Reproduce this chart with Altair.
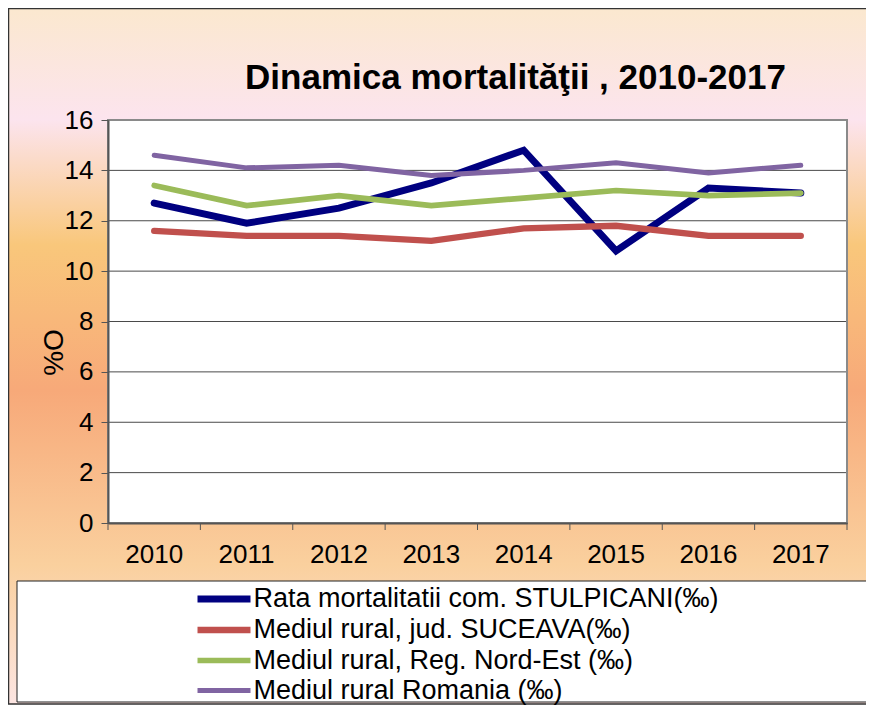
import altair as alt
import pandas as pd

years = ["2010", "2011", "2012", "2013", "2014", "2015", "2016", "2017"]
series = [
    "Rata mortalitatii com. STULPICANI(‰)",
    "Mediul rural, jud. SUCEAVA(‰)",
    "Mediul rural, Reg. Nord-Est (‰)",
    "Mediul rural Romania (‰)",
]
stulpicani = [12.7, 11.9, 12.5, 13.5, 14.8, 10.8, 13.3, 13.1]
suceava = [11.6, 11.4, 11.4, 11.2, 11.7, 11.8, 11.4, 11.4]
nordest = [13.4, 12.6, 13.0, 12.6, 12.9, 13.2, 13.0, 13.1]
romania = [14.6, 14.1, 14.2, 13.8, 14.0, 14.3, 13.9, 14.2]
colors = ["#000080", "#C0504D", "#9BBB59", "#8064A2"]
widths = [7, 5, 5.5, 4.5]
y_ticks = [0, 2, 4, 6, 8, 10, 12, 14, 16]
grid_vals = [2, 4, 6, 8, 10, 12, 14]

title_text = "Dinamica mortalităţii , 2010-2017"
y_title = "%O"

W, H = 739, 403
PL, PT, PR, PB = 100, 112, 19, 182
FONT = "Liberation Sans"

rows = []
for s, vals in zip(series, [stulpicani, suceava, nordest, romania]):
    for yr, v in zip(years, vals):
        rows.append({"year": yr, "value": v, "series": s})
df = pd.DataFrame(rows)

one = pd.DataFrame({"a": [0]})
grid_df = pd.DataFrame({"value": grid_vals})
year_df = pd.DataFrame({"year": years})

x_scale = alt.Scale(type="band", domain=years, paddingInner=0, paddingOuter=0)
y_scale = alt.Scale(domain=[0, 16], nice=False)

gradient = alt.Gradient(
    gradient="linear",
    x1=0, x2=0, y1=0, y2=1,
    stops=[
        alt.GradientStop(color="#FBE8CF", offset=0.0),
        alt.GradientStop(color="#FCE4EE", offset=0.16),
        alt.GradientStop(color="#F9C77B", offset=0.34),
        alt.GradientStop(color="#F7A979", offset=0.55),
        alt.GradientStop(color="#FAD09E", offset=0.80),
        alt.GradientStop(color="#FCE5E2", offset=1.0),
    ],
)

bg = alt.Chart(one).mark_rect(fill=gradient, stroke="#333333", strokeWidth=1.5).encode(
    x=alt.value(-PL + 0.5), x2=alt.value(W + PR + 40),
    y=alt.value(-PT + 0.5), y2=alt.value(H + PB - 1),
)

plot_bg = alt.Chart(one).mark_rect(fill="white").encode(
    x=alt.value(0), x2=alt.value(W), y=alt.value(0), y2=alt.value(H)
)

grid = alt.Chart(grid_df).mark_rule(color="#4a4a4a", strokeWidth=1).encode(
    y=alt.Y("value:Q", scale=y_scale),
    x=alt.value(0), x2=alt.value(W),
)

legend_box = alt.Chart(one).mark_rect(fill="white", stroke="#222222", strokeWidth=1).encode(
    x=alt.value(17 - 8 - PL), x2=alt.value(W + PR + 40),
    y=alt.value(581 - 8 - PT), y2=alt.value(H + PB - 3),
)

lines = alt.Chart(df).mark_line(strokeCap="round", strokeJoin="miter").encode(
    x=alt.X("year:N", scale=x_scale, sort=years,
            axis=alt.Axis(title=None, labelAngle=0, ticks=False,
                          domainColor="#555555", domainWidth=2, labelFontSize=26,
                          labelFont=FONT, labelColor="black", labelPadding=18,
                          zindex=1)),
    y=alt.Y("value:Q", scale=y_scale,
            axis=alt.Axis(values=y_ticks, grid=False, tickSize=7, tickColor="#555555",
                          domainColor="#555555", domainWidth=2, labelFontSize=26,
                          labelFont=FONT, labelColor="black", labelPadding=8,
                          title=y_title, titleFontSize=28, titleFont=FONT,
                          titleFontWeight="normal", titleColor="black",
                          titleX=-54, titleY=232, titleAngle=270,
                          titleBaseline="middle", titleAlign="center", zindex=1)),
    color=alt.Color("series:N", sort=series,
                    scale=alt.Scale(domain=series, range=colors),
                    legend=alt.Legend(title=None)),
    strokeWidth=alt.StrokeWidth("series:N", sort=series,
                                scale=alt.Scale(domain=series, range=widths),
                                legend=alt.Legend(title=None)),
    order=alt.Order("year:N"),
)

border = alt.Chart(one).mark_rect(filled=False, stroke="#8a8a8a", strokeWidth=2).encode(
    x=alt.value(0), x2=alt.value(W), y=alt.value(0), y2=alt.value(H)
)

x_ticks = alt.Chart(year_df).mark_rule(color="#555555", strokeWidth=1).encode(
    x=alt.X("year:N", scale=x_scale, sort=years, bandPosition=0),
    y=alt.value(H), y2=alt.value(H + 7),
)

last_tick = alt.Chart(one).mark_rule(color="#555555", strokeWidth=1).encode(
    x=alt.value(W), y=alt.value(H), y2=alt.value(H + 7)
)

chart = alt.layer(bg, plot_bg, grid, legend_box, lines, border, x_ticks, last_tick).properties(
    width=W, height=H,
    padding={"left": PL, "top": PT, "right": PR, "bottom": PB},
    autosize=alt.AutoSizeParams(type="none"),
    title=alt.Title(title_text, font=FONT, fontSize=35, fontWeight="bold", color="black",
                    anchor="middle", frame="group", dx=38, dy=148, offset=32,
                    baseline="alphabetic"),
).configure_view(stroke=None).configure_legend(
    orient="none", legendX=99, legendY=462, padding=0,
    symbolType="M-2,0H2", symbolSize=702, labelOffset=12.5, rowPadding=0.5,
    labelFontSize=27, labelFont=FONT, labelColor="black", labelLimit=0,
)

chart.save("out.html", embed_options={"renderer": "svg", "actions": False})
